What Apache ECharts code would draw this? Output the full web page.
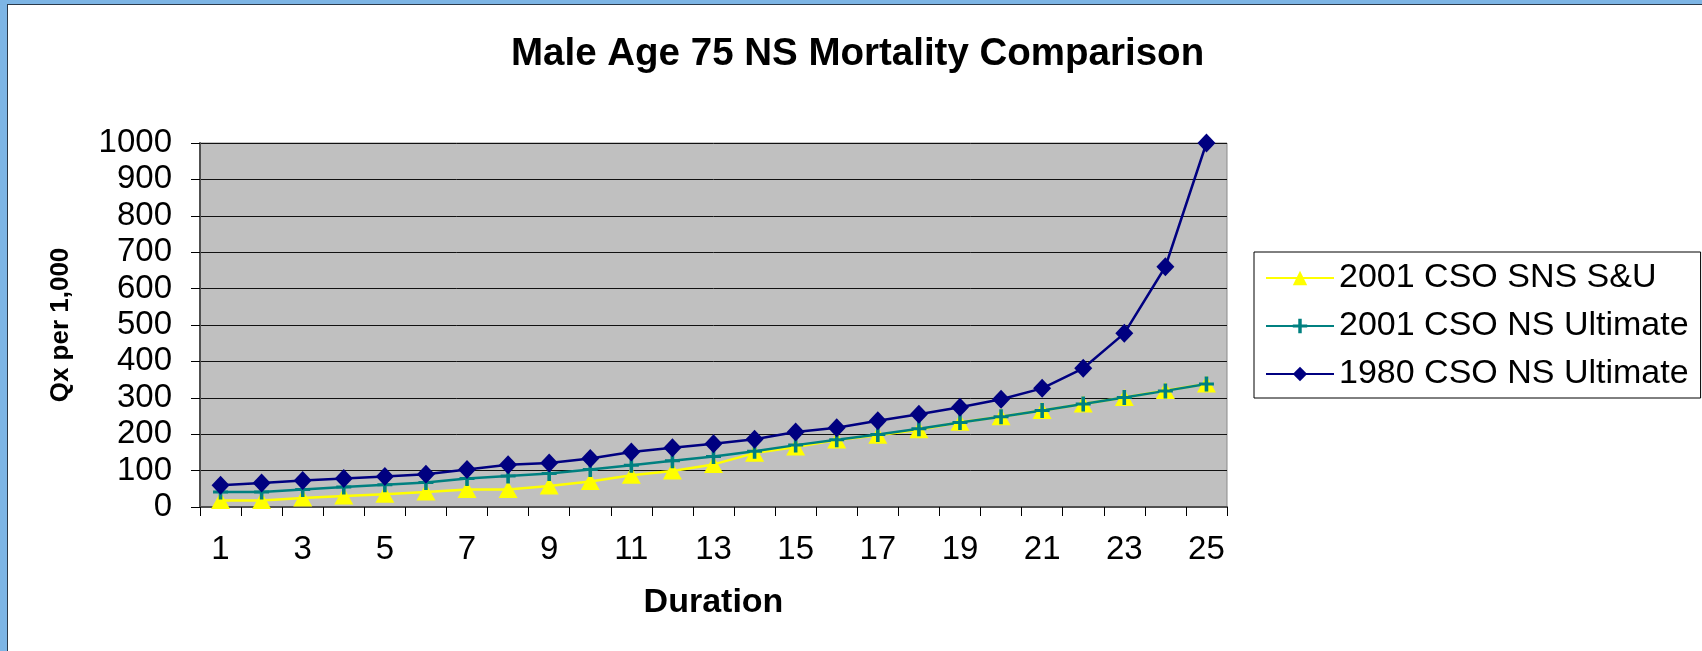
<!DOCTYPE html>
<html>
<head>
<meta charset="utf-8">
<title>Male Age 75 NS Mortality Comparison</title>
<script src="https://cdn.jsdelivr.net/npm/echarts@6/dist/echarts.min.js"></script>
<style>
  html, body { margin: 0; padding: 0; background: #fff; }
  #chart { width: 1702px; height: 651px; }
</style>
</head>
<body>
<div id="chart"></div>
<script>
var durations = ['1','2','3','4','5','6','7','8','9','10','11','12','13','14','15','16','17','18','19','20','21','22','23','24','25'];
var cso2001Snsu = [18, 18, 25, 30, 35, 41, 48, 48, 58, 70, 87, 99, 117, 148, 165, 184, 197, 212, 233, 248, 265, 283, 301, 320, 338];
var cso2001NsUlt = [41, 41, 48, 55, 61, 67, 78, 85, 92, 103, 115, 127, 139, 153, 170, 185, 199, 215, 232, 248, 265, 283, 301, 319, 338];
var cso1980NsUlt = [60, 66, 73, 78, 84, 90, 103, 116, 121, 133, 151, 163, 174, 186, 206, 218, 237, 255, 274, 296, 326, 381, 477, 660, 1000];
var yTicks = { min: 0, max: 1000, step: 100 };

var font = "'Liberation Sans', Arial, sans-serif";
var plusIcon = 'path://M3.8,0H6.2V10H3.8ZM0,4H10V6H0Z';

var chart = echarts.init(document.getElementById('chart'));

chart.setOption({
    animation: false,
    backgroundColor: '#ffffff',
    // blue window frame on left / top
    graphic: [
        { type: 'rect', shape: { x: 0, y: 0, width: 7, height: 651 }, style: { fill: '#7db5e5' }, z: 10 },
        { type: 'rect', shape: { x: 0, y: 0, width: 1702, height: 4 }, style: { fill: '#7db5e5' }, z: 10 },
        { type: 'rect', shape: { x: 7, y: 4, width: 1, height: 647 }, style: { fill: '#2b3a4a' }, z: 10 },
        { type: 'rect', shape: { x: 7, y: 4, width: 1695, height: 1 }, style: { fill: '#2b3a4a' }, z: 10 }
    ],
    title: {
        text: 'Male Age 75 NS Mortality Comparison',
        left: 506,
        top: 30,
        textStyle: { fontFamily: font, fontSize: 38.5, fontWeight: 'bold', color: '#000' }
    },
    grid: {
        left: 200,
        top: 143,
        right: 475,
        bottom: 144,
        show: true,
        backgroundColor: '#c0c0c0',
        borderColor: '#8a8a8a',
        borderWidth: 1
    },
    legend: {
        orient: 'vertical',
        left: 1254,
        top: 252,
        width: 446,
        padding: [8, 12, 6, 11],
        itemWidth: 68,
        itemHeight: 18,
        itemGap: 12,
        borderColor: '#000',
        borderWidth: 1,
        backgroundColor: '#fff',
        textStyle: { fontFamily: font, fontSize: 34, color: '#000', lineHeight: 36 },
        data: ['2001 CSO SNS S&U', '2001 CSO NS Ultimate', '1980 CSO NS Ultimate']
    },
    xAxis: {
        type: 'category',
        data: durations,
        boundaryGap: true,
        name: 'Duration',
        nameLocation: 'middle',
        nameGap: 79,
        nameTextStyle: { fontFamily: font, fontSize: 34, fontWeight: 'bold', color: '#000' },
        axisLine: { lineStyle: { color: '#505050', width: 2 } },
        axisTick: { show: true, length: 9, interval: 0, lineStyle: { color: '#000', width: 1 } },
        axisLabel: { interval: 1, margin: 26, fontFamily: font, fontSize: 33, color: '#000' },
        splitLine: { show: false }
    },
    yAxis: {
        type: 'value',
        min: yTicks.min,
        max: yTicks.max,
        interval: yTicks.step,
        name: 'Qx per 1,000',
        nameLocation: 'middle',
        nameGap: 126,
        nameTextStyle: { fontFamily: font, fontSize: 26, fontWeight: 'bold', color: '#000' },
        axisLine: { show: true, lineStyle: { color: '#505050', width: 2 } },
        axisTick: { show: true, length: 9, lineStyle: { color: '#000', width: 1 } },
        axisLabel: {
            margin: 28, fontFamily: font, fontSize: 33, color: '#000',
            formatter: function (v) { return String(v); }
        },
        splitLine: { lineStyle: { color: '#111', width: 1 } }
    },
    series: [
        {
            name: '2001 CSO SNS S&U',
            type: 'line',
            data: cso2001Snsu,
            symbol: 'triangle',
            symbolSize: [19, 17],
            showAllSymbol: true,
            itemStyle: { color: '#ffff00' },
            lineStyle: { color: '#ffff00', width: 2.5 }
        },
        {
            name: '2001 CSO NS Ultimate',
            type: 'line',
            data: cso2001NsUlt,
            symbol: plusIcon,
            symbolSize: 15,
            showAllSymbol: true,
            itemStyle: { color: '#008080' },
            lineStyle: { color: '#008080', width: 2.5 }
        },
        {
            name: '1980 CSO NS Ultimate',
            type: 'line',
            data: cso1980NsUlt,
            symbol: 'diamond',
            symbolSize: [18, 19],
            showAllSymbol: true,
            itemStyle: { color: '#000080' },
            lineStyle: { color: '#000080', width: 2.5 }
        }
    ]
});

window.onresize = function () {
    chart.resize();
};
</script>
</body>
</html>
